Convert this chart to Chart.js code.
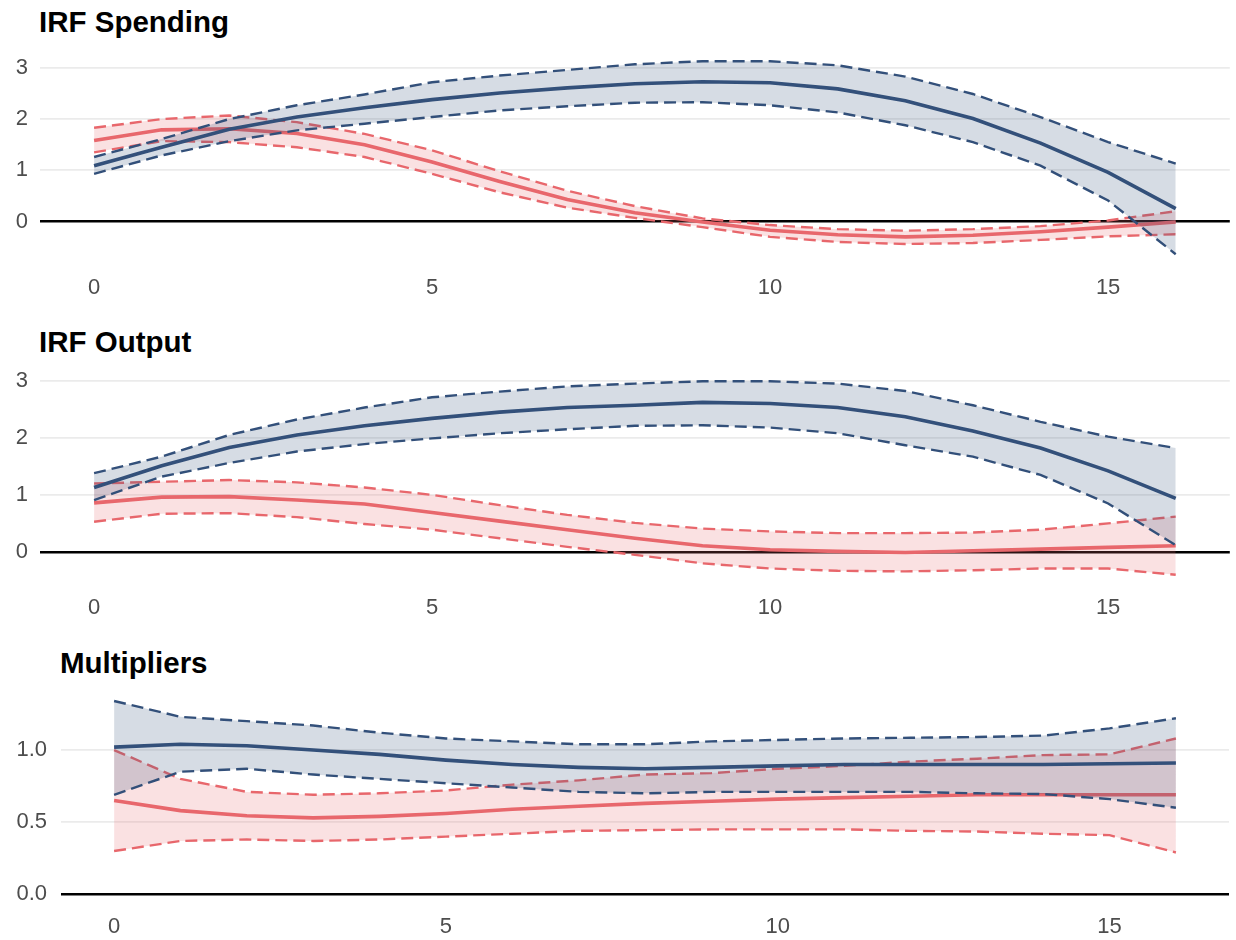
<!DOCTYPE html>
<html>
<head>
<meta charset="utf-8">
<script src="https://cdn.jsdelivr.net/npm/chart.js@4.4.1/dist/chart.umd.min.js"></script>
<style>
  html, body { margin:0; padding:0; background:#ffffff; }
  body { width:1236px; height:940px; position:relative; overflow:hidden; font-family:'Liberation Sans', Arial, sans-serif; }
  canvas { position:absolute; left:0; }
  .title { position:absolute; font-weight:bold; font-size:29.5px; line-height:29.5px; color:#000; white-space:nowrap; }
</style>
</head>
<body>
<div class="title" style="left:39px; top:7px;">IRF Spending</div>
<div class="title" style="left:39px; top:327px;">IRF Output</div>
<div class="title" style="left:60px; top:648px;">Multipliers</div>
<canvas id="c1" width="1236" height="310" style="top:0px"></canvas>
<canvas id="c2" width="1236" height="310" style="top:320px"></canvas>
<canvas id="c3" width="1236" height="300" style="top:640px"></canvas>
<script>
// ---- data ----
const horizons = [0,1,2,3,4,5,6,7,8,9,10,11,12,13,14,15,16];
const xTicks = [0, 5, 10, 15];
const irfTicks = [0, 1, 2, 3];
const multTicks = [0, 0.5, 1.0];

// IRF Spending
const spendBlue      = [1.09,1.45,1.80,2.04,2.22,2.38,2.51,2.61,2.69,2.73,2.71,2.59,2.36,2.01,1.53,0.96,0.25];
const spendBlueUpper = [1.26,1.61,2.00,2.27,2.48,2.72,2.85,2.96,3.07,3.13,3.13,3.05,2.83,2.49,2.04,1.55,1.13];
const spendBlueLower = [0.93,1.29,1.57,1.78,1.91,2.04,2.17,2.25,2.32,2.33,2.27,2.13,1.88,1.55,1.09,0.41,-0.64];
const spendRed       = [1.58,1.79,1.81,1.72,1.50,1.16,0.78,0.43,0.17,-0.01,-0.17,-0.26,-0.30,-0.27,-0.20,-0.11,-0.01];
const spendRedUpper  = [1.83,2.00,2.07,1.94,1.71,1.39,0.98,0.60,0.30,0.06,-0.07,-0.15,-0.18,-0.15,-0.09,0.02,0.20];
const spendRedLower  = [1.35,1.57,1.55,1.45,1.26,0.93,0.57,0.27,0.07,-0.11,-0.30,-0.40,-0.44,-0.42,-0.36,-0.29,-0.25];

// IRF Output
const outBlue      = [1.13,1.51,1.83,2.05,2.21,2.34,2.45,2.53,2.57,2.62,2.60,2.53,2.37,2.12,1.82,1.42,0.94];
const outBlueUpper = [1.38,1.67,2.05,2.32,2.53,2.71,2.81,2.90,2.95,2.99,2.99,2.95,2.82,2.57,2.28,2.02,1.82];
const outBlueLower = [0.91,1.32,1.56,1.76,1.89,1.99,2.08,2.15,2.21,2.22,2.18,2.08,1.87,1.67,1.35,0.85,0.12];
const outRed       = [0.86,0.96,0.97,0.91,0.84,0.69,0.54,0.39,0.24,0.11,0.04,0.01,-0.01,0.02,0.05,0.08,0.11];
const outRedUpper  = [1.20,1.23,1.26,1.22,1.13,1.00,0.82,0.65,0.51,0.41,0.36,0.33,0.33,0.34,0.39,0.50,0.62];
const outRedLower  = [0.53,0.67,0.68,0.61,0.49,0.39,0.24,0.09,-0.05,-0.20,-0.29,-0.33,-0.34,-0.32,-0.29,-0.29,-0.40];

// Multipliers
const multBlue      = [1.02,1.04,1.03,1.00,0.97,0.93,0.90,0.88,0.87,0.88,0.89,0.90,0.90,0.90,0.90,0.905,0.91];
const multBlueUpper = [1.34,1.23,1.20,1.17,1.12,1.08,1.06,1.04,1.04,1.06,1.07,1.08,1.085,1.09,1.10,1.15,1.22];
const multBlueLower = [0.69,0.85,0.87,0.83,0.80,0.77,0.74,0.71,0.70,0.71,0.71,0.71,0.71,0.70,0.695,0.66,0.60];
const multRed       = [0.65,0.58,0.545,0.53,0.54,0.56,0.59,0.61,0.63,0.645,0.66,0.67,0.68,0.69,0.69,0.69,0.69];
const multRedUpper  = [1.00,0.80,0.71,0.69,0.70,0.72,0.76,0.79,0.83,0.84,0.87,0.89,0.92,0.94,0.965,0.97,1.08];
const multRedLower  = [0.30,0.37,0.38,0.37,0.38,0.40,0.42,0.44,0.445,0.45,0.45,0.45,0.44,0.435,0.42,0.41,0.29];

// ---- styling ----
const BLUE = '#33507a', BLUE_FILL = 'rgba(51,80,122,0.2)';
const RED = '#e8676c', RED_FILL = 'rgba(232,103,108,0.2)';
const FONT = "'Liberation Sans', Arial, sans-serif";

function pts(arr){ return horizons.map((h,i)=>({x:h, y:arr[i]})); }

function datasets(bm, bu, bl, rm, ru, rl){
  const solid = (d,c)=>({data:pts(d), borderColor:c, borderWidth:3.6, fill:false, pointRadius:0});
  const dash = (d,c,fillC)=>({data:pts(d), borderColor:c, borderWidth:2.4, borderDash:[12,6], borderCapStyle:'butt',
                               fill: fillC ? '+1' : false, backgroundColor: fillC || 'transparent', pointRadius:0});
  // index 0 drawn last (on top)
  return [solid(bm,BLUE), dash(bu,BLUE,BLUE_FILL), dash(bl,BLUE,null),
          solid(rm,RED), dash(ru,RED,RED_FILL), dash(rl,RED,null)];
}

function makePanel(id, ds, cfg){
  new Chart(document.getElementById(id), {
    type:'line',
    data:{ datasets: ds },
    options:{
      responsive:false, animation:false, devicePixelRatio:1,
      layout:{ padding:{ top:cfg.top, right:cfg.right, bottom:0, left:0 } },
      plugins:{ legend:{display:false}, tooltip:{enabled:false}, title:{display:false} },
      elements:{ line:{ tension:0 }, point:{ radius:0 } },
      scales:{
        x:{
          type:'linear', min:-0.8, max:16.8,
          afterBuildTicks: s=>{ s.ticks = xTicks.map(v=>({value:v})); },
          afterFit: s=>{ s.height = cfg.xH; },
          grid:{ display:false, drawTicks:false },
          border:{ display:false },
          ticks:{ padding:cfg.xPad, color:'#4d4d4d', font:{family:FONT, size:22}, maxRotation:0, autoSkip:false,
                  callback: v=>String(v) }
        },
        y:{
          type:'linear', min:cfg.yMin, max:cfg.yMax,
          afterBuildTicks: s=>{ s.ticks = cfg.yTicks.map(v=>({value:v})); },
          afterFit: s=>{ s.width = cfg.left; },
          grid:{ drawTicks:false,
                 color: c=> (c.tick && c.tick.value===0) ? '#000000' : '#ebebeb',
                 lineWidth: c=> (c.tick && c.tick.value===0) ? 2.4 : 1.8 },
          border:{ display:false },
          ticks:{ padding:cfg.yPad, color:'#4d4d4d', font:{family:FONT, size:22}, autoSkip:false,
                  callback: v=> cfg.fmt(v) }
        }
      }
    }
  });
}

makePanel('c1', datasets(spendBlue, spendBlueUpper, spendBlueLower, spendRed, spendRedUpper, spendRedLower),
  {top:52, right:6.2, left:40, xH:310-264.5, yMin:-0.84, yMax:3.31, yTicks:irfTicks, fmt:v=>String(v), yPad:12, xPad:10});
makePanel('c2', datasets(outBlue, outBlueUpper, outBlueLower, outRed, outRedUpper, outRedLower),
  {top:51.6, right:6.2, left:40, xH:310-264.5, yMin:-0.57, yMax:3.16, yTicks:irfTicks, fmt:v=>String(v), yPad:12, xPad:10});
makePanel('c3', datasets(multBlue, multBlueUpper, multBlueLower, multRed, multRedUpper, multRedLower),
  {top:51.3, right:7, left:61, xH:300-264, yMin:-0.067, yMax:1.407, yTicks:multTicks, fmt:v=>v.toFixed(1), yPad:14, xPad:10});
</script>
</body>
</html>
